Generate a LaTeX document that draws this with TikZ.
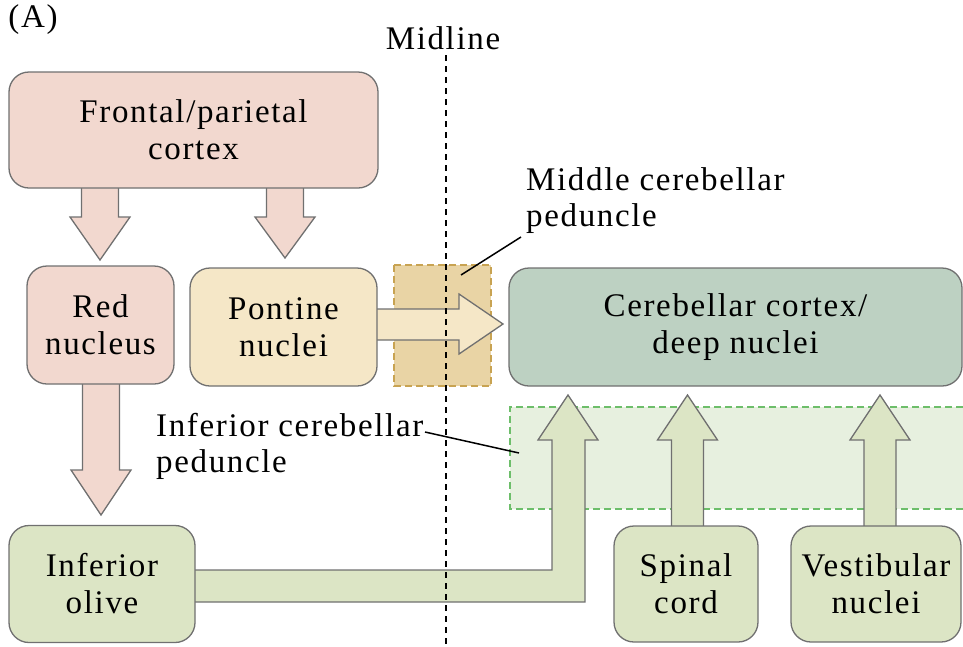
\documentclass[tikz,border=0pt]{standalone}
\usepackage{fontspec}
\setmainfont[LetterSpace=5]{Liberation Serif}
\definecolor{pinkf}{HTML}{F2D8CF}
\definecolor{tanf}{HTML}{F5E7C7}
\definecolor{tandash}{HTML}{E9D4A5}
\definecolor{tanstroke}{HTML}{C8A352}
\definecolor{olivef}{HTML}{DCE5C5}
\definecolor{cerebf}{HTML}{BDD1C2}
\definecolor{greendash}{HTML}{E7F0DF}
\definecolor{greenstroke}{HTML}{6DBE6A}
\definecolor{edge}{HTML}{707070}
\tikzset{
  box/.style={draw=edge, line width=1.3pt, rounded corners=20pt, inner sep=0pt, align=center,
    font=\fontsize{33}{37}\selectfont},
  blockarrow/.style={draw=edge, line width=1.3pt, line join=miter},
  dashbox/.style={line width=1.4pt, dash pattern=on 7pt off 4pt},
  lbl/.style={font=\fontsize{33}{36}\selectfont, inner sep=0pt},
  leader/.style={line width=1.5pt, black}
}
\newcommand\myDownArrow[5]{%
  \draw[blockarrow, fill=#5] (#1-18.5,#2) -- (#1+18.5,#2) -- (#1+18.5,#3) -- (#1+30,#3) -- (#1,#4) -- (#1-30,#3) -- (#1-18.5,#3) -- cycle;}
\newcommand\myUpArrow[5]{%
  \draw[blockarrow, fill=#5] (#1-16,#2) -- (#1+16,#2) -- (#1+16,#3) -- (#1+30,#3) -- (#1,#4) -- (#1-30,#3) -- (#1-16,#3) -- cycle;}
\begin{document}
\begin{tikzpicture}[x=1pt,y=-1pt]
\useasboundingbox (0,0) rectangle (963,646);
% dashed regions
\fill[tandash] (394,265) rectangle (491,386);
\draw[dashbox, draw=tanstroke] (394,265) rectangle (491,386);
\fill[greendash] (510,407) rectangle (963,509);
\draw[dashbox, draw=greenstroke] (963,407) -- (510,407) -- (510,509) -- (963,509);
% block arrows
\myDownArrow{100}{180}{217}{260}{pinkf}
\myDownArrow{285}{180}{217}{258}{pinkf}
\myDownArrow{101}{375}{470}{515}{pinkf}
\draw[blockarrow, fill=tanf] (360,309) -- (459,309) -- (459,294) -- (503,324) -- (459,354) -- (459,340) -- (360,340) -- cycle;
\draw[blockarrow, fill=olivef] (180,570) -- (552,570) -- (552,440) -- (538,440) -- (568,395) -- (598,440) -- (585,440) -- (585,602) -- (180,602) -- cycle;
\myUpArrow{687.5}{535}{440}{395}{olivef}
\myUpArrow{880}{535}{440}{395}{olivef}
% boxes
\node[box, fill=pinkf, minimum width=369pt, minimum height=116pt] (front) at (193.5,130) {Frontal/parietal\\cortex};
\node[box, fill=pinkf, minimum width=147pt, minimum height=118pt] (red) at (100.5,325) {Red\\nucleus};
\node[box, fill=tanf, minimum width=187pt, minimum height=118pt] (pont) at (283.5,327) {Pontine\\nuclei};
\node[box, fill=cerebf, minimum width=453pt, minimum height=118pt] (cereb) at (735.5,327) {Cerebellar cortex/\\deep nuclei};
\node[box, fill=olivef, minimum width=186pt, minimum height=117pt] (olive) at (102,584) {Inferior\\olive};
\node[box, fill=olivef, minimum width=144pt, minimum height=116pt] (spinal) at (686,584) {Spinal\\cord};
\node[box, fill=olivef, minimum width=170pt, minimum height=116pt] (vest) at (876,584) {Vestibular\\nuclei};
% midline
\coordinate (mtop) at (446,55);
\coordinate (mbot) at (446,646);
\draw[line width=2pt, black, dash pattern=on 6pt off 5pt] (mtop) -- (mbot);
\node[lbl] (midl) at (443,38) {Midline};
\node[lbl] (A) at (33,20) {(A)};
% labels
\node[lbl, anchor=north west, align=left] (mcp) at (526,167) {Middle cerebellar\\peduncle};
\node[lbl, anchor=north west, align=left] (icp) at (156,413) {Inferior cerebellar\\peduncle};
\coordinate (mcpend) at (461,275);
\coordinate (icpend) at (519,453);
\draw[leader] (521,237) -- (mcpend);
\draw[leader] (425,432) -- (icpend);
\end{tikzpicture}
\end{document}
